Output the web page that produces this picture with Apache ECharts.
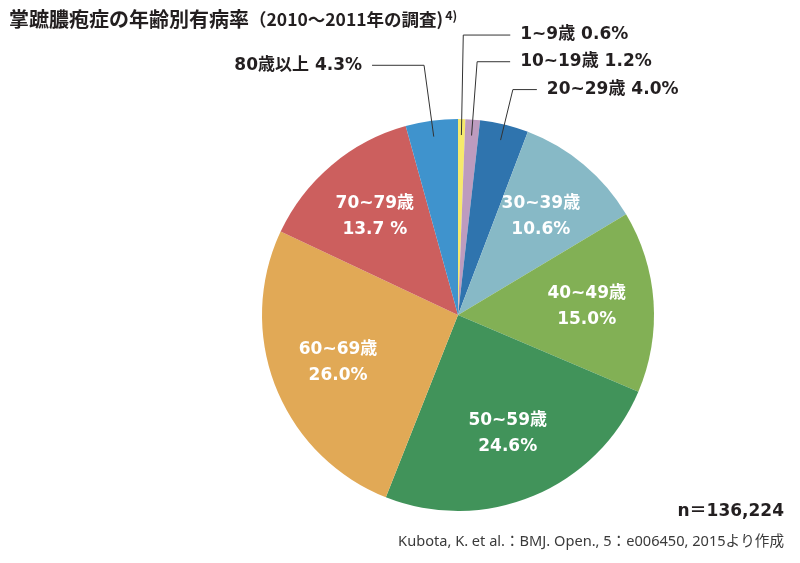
<!DOCTYPE html>
<html>
<head>
<meta charset="utf-8">
<script src="https://cdn.jsdelivr.net/npm/echarts@6/dist/echarts.min.js"></script>
<style>
  html, body { margin: 0; padding: 0; background: #fff; }
  #chart { width: 800px; height: 563px; }
</style>
</head>
<body>
<div id="chart"></div>
<script>
// 年齢層と有病率(%)
const ageGroups = ['1~9歳', '10~19歳', '20~29歳', '30~39歳', '40~49歳', '50~59歳', '60~69歳', '70~79歳', '80歳以上'];
const shares = [0.6, 1.2, 4.0, 10.6, 15.0, 24.6, 26.0, 13.7, 4.3];
const shareLabels = ['0.6%', '1.2%', '4.0%', '10.6%', '15.0%', '24.6%', '26.0%', '13.7 %', '4.3%'];
const sliceColors = ['#f6ea6c', '#bd9bbf', '#2f74ae', '#87b9c6', '#82b055', '#41935a', '#e1a956', '#cc5f5e', '#3f93cd'];
// 外側ラベルにする小さい区分 (index: [length, length2])
const outerLines = { 0: [100, 47], 1: [74, 33], 2: [52, 24], 8: [72, 52] };

const FONT = "'DejaVu Sans', 'Noto Sans CJK JP', sans-serif";
const JP_FONT = "'Noto Sans CJK JP', sans-serif";

let chart = echarts.init(document.getElementById('chart'));

// 色付きの本体
let mainData = ageGroups.map(function (name, i) {
    return { name: name, value: shares[i], itemStyle: { color: sliceColors[i] } };
});

// ラベル用の透明な円
let labelData = ageGroups.map(function (name, i) {
    let item = { name: name, value: shares[i] };
    if (outerLines[i]) {
        item.label = {
            show: true,
            position: 'outside',
            color: '#231f20',
            fontSize: 17,
            fontWeight: 'bold',
            fontFamily: FONT,
            distanceToLabelLine: 10,
            formatter: name + ' ' + shareLabels[i]
        };
        item.labelLine = {
            show: true,
            length: outerLines[i][0],
            length2: outerLines[i][1],
            lineStyle: { color: '#333', width: 1 }
        };
    } else {
        item.label = {
            show: true,
            position: 'inside',
            color: '#fff',
            fontSize: 17,
            fontWeight: 'bold',
            fontFamily: FONT,
            lineHeight: 26,
            formatter: name + '\n' + shareLabels[i]
        };
        item.labelLine = { show: false };
    }
    return item;
});

var option = {
    animation: false,
    textStyle: { fontFamily: FONT },
    title: {
        text: '{t|掌蹠膿疱症の年齢別有病率}{p|（2010～2011年の調査)}{s|4)}',
        left: 4,
        top: 4,
        textStyle: {
            rich: {
                t: { fontSize: 20, fontWeight: 'bold', color: '#231f20', fontFamily: JP_FONT },
                p: { fontSize: 17.5, fontWeight: 'bold', color: '#231f20', fontFamily: JP_FONT },
                s: { fontSize: 12.5, fontWeight: 'bold', color: '#231f20', fontFamily: JP_FONT, verticalAlign: 'top', padding: [0, 0, 8, 2] }
            }
        }
    },
    graphic: [
        {
            type: 'text',
            right: 16,
            top: 503,
            style: { text: 'n＝136,224', font: 'bold 17px ' + FONT, fill: '#231f20' }
        },
        {
            type: 'text',
            right: 16,
            top: 535,
            style: { text: 'Kubota, K. et al.：BMJ. Open., 5：e006450, 2015より作成', font: '14.6px ' + "'Noto Sans', 'Noto Sans CJK JP', sans-serif", fill: '#3a3a3a' }
        }
    ],
    series: [
        {
            name: '有病率',
            type: 'pie',
            center: [458, 315],
            radius: [0, 196],
            startAngle: 90,
            clockwise: true,
            silent: true,
            label: { show: false },
            labelLine: { show: false },
            data: mainData
        },
        {
            name: 'ラベル',
            type: 'pie',
            center: [458, 315],
            radius: [72, 180],
            startAngle: 90,
            clockwise: true,
            silent: true,
            z: 5,
            avoidLabelOverlap: false,
            itemStyle: { color: 'rgba(0,0,0,0)' },
            emphasis: { disabled: true },
            data: labelData
        }
    ]
};

chart.setOption(option);
</script>
</body>
</html>
